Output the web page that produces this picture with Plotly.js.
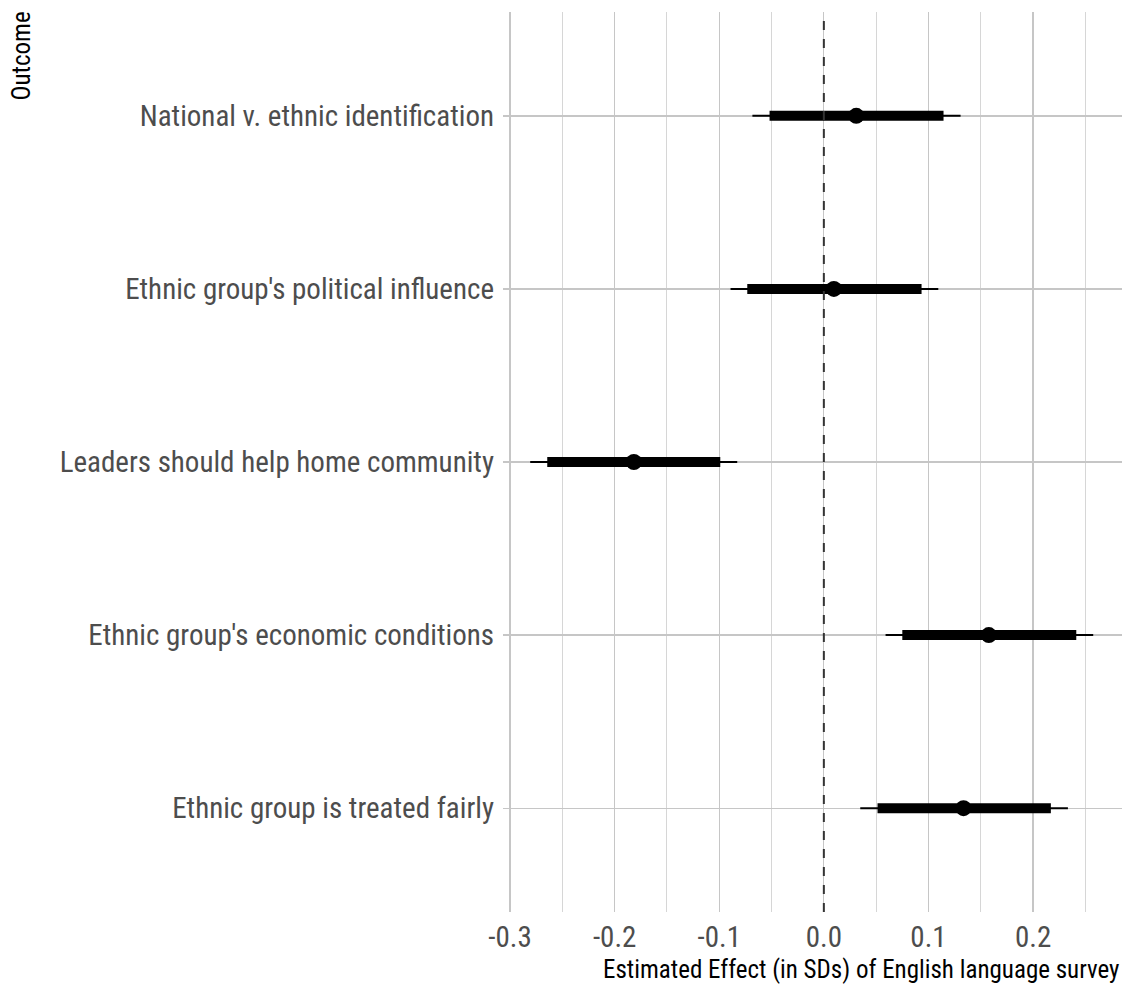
<!DOCTYPE html>
<html>
<head>
<meta charset="utf-8">
<script src="https://cdn.plot.ly/plotly-3.0.1.min.js"></script>
<style>html,body{margin:0;padding:0;background:#fff;}#chart{width:1127px;height:986px;}</style>
</head>
<body>
<div id="chart"></div>
<script>
const outcomes = [
  "Ethnic group is treated fairly",
  "Ethnic group's economic conditions",
  "Leaders should help home community",
  "Ethnic group's political influence",
  "National v. ethnic identification"
];
const estimate = [0.1335, 0.1577, -0.1816, 0.0096, 0.031];
const thickLow = [0.0513, 0.075, -0.2644, -0.0732, -0.0519];
const thickHigh = [0.217, 0.2413, -0.099, 0.0934, 0.1144];
const thinLow = [0.0348, 0.059, -0.2807, -0.0892, -0.0683];
const thinHigh = [0.2333, 0.2575, -0.0828, 0.1094, 0.1307];
const xTickVals = [-0.3, -0.2, -0.1, 0.0, 0.1, 0.2];
const xTickText = ["-0.3", "-0.2", "-0.1", "0.0", "0.1", "0.2"];

function segs(lo, hi) {
  const xs = [], ys = [];
  for (let i = 0; i < outcomes.length; i++) {
    xs.push(lo[i], hi[i], null);
    ys.push(i, i, null);
  }
  return {x: xs, y: ys};
}
const thin = segs(thinLow, thinHigh);
const thick = segs(thickLow, thickHigh);
const idx = outcomes.map((_, i) => i);

const font = "'Liberation Sans Narrow', 'Roboto Condensed', 'Arial Narrow', 'Liberation Sans', sans-serif";

const data = [
  {type: 'scatter', mode: 'lines', x: thin.x, y: thin.y, line: {color: '#000', width: 2}, hoverinfo: 'skip', showlegend: false},
  {type: 'scatter', mode: 'lines', x: thick.x, y: thick.y, line: {color: '#000', width: 10}, hoverinfo: 'skip', showlegend: false},
  {type: 'scatter', mode: 'markers', x: estimate, y: idx, marker: {color: '#000', size: 16}, showlegend: false}
];

const layout = {
  width: 1127, height: 986,
  margin: {l: 503, r: 5, t: 12, b: 74},
  paper_bgcolor: '#fff', plot_bgcolor: '#fff',
  font: {family: font},
  xaxis: {
    range: [-0.3067, 0.285],
    tickvals: xTickVals, ticktext: xTickText,
    tickfont: {size: 29, color: '#4d4d4d', family: font},
    showgrid: true, gridcolor: '#c6c6c6', gridwidth: 1.3,
    minor: {dtick: 0.05, tick0: 0, showgrid: true, gridcolor: '#d6d6d6', gridwidth: 1},
    zeroline: false, showline: false, ticks: '', ticklabelstandoff: 5
  },
  yaxis: {
    range: [-0.6, 4.6],
    tickvals: idx, ticktext: outcomes,
    tickfont: {size: 29, color: '#4d4d4d', family: font},
    showgrid: true, gridcolor: '#c6c6c6', gridwidth: 1.3,
    zeroline: false, showline: false, ticks: '', ticklabelstandoff: 8
  },
  shapes: [
    {type: 'line', xref: 'x', yref: 'paper', x0: 0, x1: 0, y0: 0, y1: 1,
     line: {color: '#333', width: 2, dash: 'dash'}, layer: 'above'}
  ],
  annotations: [
    {text: 'Estimated Effect (in SDs) of English language survey', xref: 'paper', yref: 'paper',
     x: 1, y: 0, xanchor: 'right', yanchor: 'top', yshift: -41, xshift: 0, showarrow: false,
     font: {size: 25, color: '#000', family: font}},
    {text: 'Outcome', xref: 'paper', yref: 'paper', x: 0, y: 1, xshift: -482, yshift: 2,
     xanchor: 'center', yanchor: 'top', textangle: -90, showarrow: false,
     font: {size: 25, color: '#000', family: font}}
  ]
};

Plotly.newPlot('chart', data, layout, {displayModeBar: false, staticPlot: true});
</script>
</body>
</html>
